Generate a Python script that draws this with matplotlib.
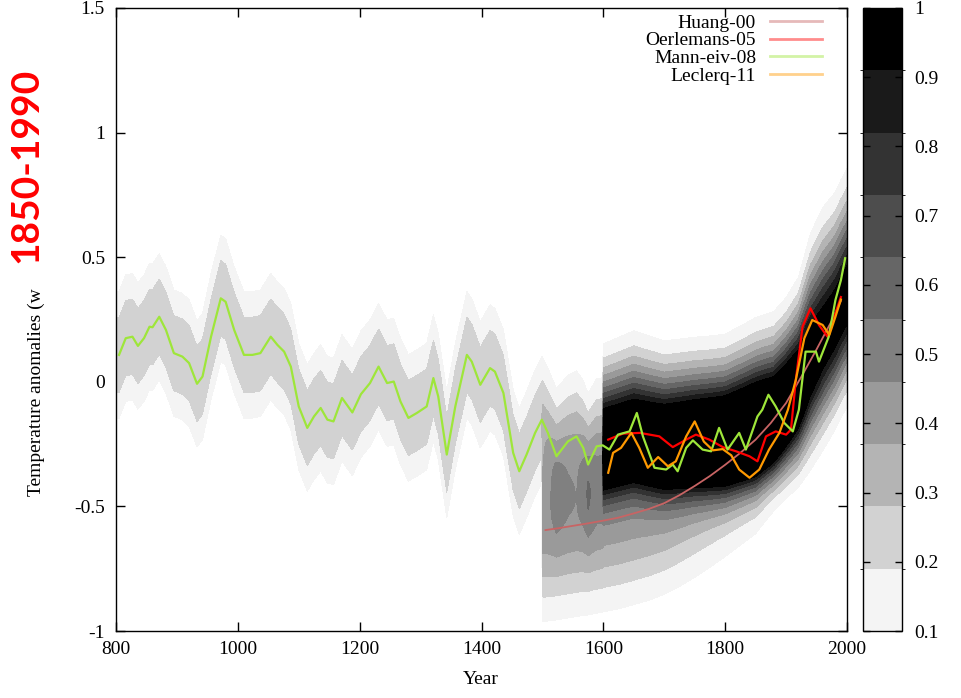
import numpy as np
import matplotlib
matplotlib.use('Agg')
import matplotlib.pyplot as plt
from matplotlib.colors import ListedColormap, BoundaryNorm
from matplotlib.cm import ScalarMappable
from matplotlib.lines import Line2D

plt.rcParams['font.family'] = 'Liberation Serif'
plt.rcParams['axes.unicode_minus'] = False

# --- reconstructions ---
mann_years = [805, 816, 827, 836, 846, 855, 860, 871, 882, 895,
              909, 920, 933, 942, 956, 972, 980, 994, 1010, 1024,
              1037, 1054, 1065, 1076, 1087, 1100, 1114, 1125, 1136, 1147,
              1157, 1171, 1188, 1202, 1217, 1231, 1245, 1256, 1267, 1280,
              1294, 1310, 1321, 1329, 1343, 1357, 1376, 1384, 1398, 1414,
              1422, 1436, 1452, 1462, 1474, 1488, 1499, 1509, 1523, 1542,
              1556, 1567, 1575, 1589, 1599, 1610, 1624, 1643, 1655, 1665,
              1684, 1703, 1714, 1722, 1736, 1747, 1763, 1777, 1790, 1804,
              1823, 1834, 1853, 1861, 1871, 1883, 1897, 1911, 1921, 1932,
              1949, 1954, 1970, 1981, 1990, 1997]
mann_vals = [0.108, 0.175, 0.181, 0.144, 0.175, 0.221, 0.219, 0.261, 0.208, 0.115,
             0.101, 0.075, -0.008, 0.021, 0.181, 0.335, 0.321, 0.208, 0.108, 0.108,
             0.115, 0.181, 0.148, 0.121, 0.061, -0.099, -0.185, -0.139, -0.105, -0.152,
             -0.159, -0.065, -0.123, -0.050, -0.005, 0.061, -0.005, 0.001, -0.079, -0.145,
             -0.125, -0.099, 0.015, -0.059, -0.292, -0.099, 0.108, 0.081, -0.012, 0.055,
             0.041, -0.045, -0.285, -0.359, -0.292, -0.205, -0.152, -0.205, -0.299, -0.239,
             -0.219, -0.265, -0.332, -0.259, -0.255, -0.272, -0.212, -0.199, -0.125, -0.219,
             -0.345, -0.352, -0.332, -0.359, -0.265, -0.235, -0.272, -0.279, -0.185, -0.272,
             -0.205, -0.272, -0.139, -0.112, -0.052, -0.099, -0.165, -0.199, -0.112, 0.121,
             0.121, 0.081, 0.181, 0.328, 0.408, 0.496]

oerl_years = [1608, 1632, 1660, 1692, 1714, 1736, 1752, 1774, 1796, 1818, 1840, 1853,
              1867, 1883, 1900, 1908, 1916, 1927, 1940, 1954, 1968, 1979, 1990]
oerl_vals = [-0.232, -0.208, -0.205, -0.219, -0.262, -0.232, -0.212, -0.232, -0.262, -0.279,
             -0.299, -0.319, -0.219, -0.199, -0.212, -0.192, 0.008, 0.221, 0.295, 0.228,
             0.181, 0.261, 0.34]

lecl_years = [1608, 1616, 1629, 1646, 1659, 1673, 1690, 1706, 1719, 1736, 1750, 1765, 1780, 1796,
              1810, 1823, 1840, 1856, 1872, 1889, 1903, 1916, 1930, 1943, 1960, 1971, 1981, 1990]
lecl_vals = [-0.365, -0.285, -0.265, -0.205, -0.265, -0.345, -0.302, -0.339, -0.319, -0.219,
             -0.159, -0.240, -0.275, -0.270, -0.295, -0.352, -0.385, -0.352, -0.272, -0.205,
             -0.112, 0.008, 0.175, 0.248, 0.228, 0.188, 0.261, 0.33]

huang_years = [1505, 1525, 1550, 1575, 1600, 1625, 1650, 1675, 1700, 1725, 1750,
               1775, 1800, 1825, 1850, 1875, 1900, 1925, 1950, 1975, 1990]
huang_vals = [-0.595, -0.588, -0.578, -0.568, -0.557, -0.545, -0.528, -0.51, -0.487, -0.455, -0.418,
              -0.378, -0.333, -0.285, -0.232, -0.165, -0.085, 0.02, 0.13, 0.245, 0.325]

# --- probability shading: centre / spread / height of the grey cloud ---
core_years = [1600, 1650, 1700, 1750, 1800, 1850, 1880, 1900, 1920, 1940, 1960, 1980, 2000]
core_center = [-0.28, -0.25, -0.27, -0.26, -0.26, -0.23, -0.19, -0.12, -0.05, 0.07, 0.16, 0.24, 0.34]
core_peak = [1.3, 1.3, 1.3, 1.3, 1.3, 1.3, 1.3, 1.25, 1.15, 1.0, 0.95, 0.95, 0.95]
core_s_up = [0.19, 0.20, 0.19, 0.19, 0.19, 0.20, 0.19, 0.19, 0.20, 0.24, 0.25, 0.24, 0.24]
core_s_dn = [0.12, 0.12, 0.12, 0.12, 0.12, 0.12, 0.12, 0.14, 0.16, 0.19, 0.20, 0.20, 0.20]
huang_peak = [0.4, 0.4, 0.4, 0.4, 0.4, 0.4, 0.4, 0.4, 0.4, 0.4, 0.4,
              0.4, 0.4, 0.4, 0.4, 0.3, 0.2, 0.15, 0.12, 0.1, 0.1]
huang_sigma = 0.22
mann_peak, mann_sigma = 0.27, 0.18

prob_levels = [0.1, 0.19, 0.28, 0.37, 0.46, 0.55, 0.64, 0.73, 0.82, 0.91, 1.0]
greys = ['#f4f4f4', '#d2d2d2', '#b4b4b4', '#9a9a9a', '#808080',
         '#666666', '#4d4d4d', '#333333', '#1a1a1a', '#000000']

yr = np.arange(800, 2000.5, 1.0)
tt = np.linspace(-1, 1.5, 501)
T = tt[:, None]


def band(years, centre, peak, s_up, s_dn, y0, y1):
    n = len(years)
    c = np.interp(yr, years, centre)
    p = np.interp(yr, years, np.broadcast_to(peak, n))
    su = np.interp(yr, years, np.broadcast_to(s_up, n))
    sd = np.interp(yr, years, np.broadcast_to(s_dn, n))
    d = T - c[None, :]
    s = np.where(d > 0, su[None, :], sd[None, :])
    out = p[None, :] * np.exp(-0.5 * (d / s) ** 2)
    out[:, (yr < y0) | (yr > y1)] = 0
    return out


dens = band(mann_years, mann_vals, mann_peak, mann_sigma, mann_sigma, 800, 1599.5)
dens += band(huang_years, huang_vals, huang_peak, huang_sigma, huang_sigma, 1500, 2000)
dens += band(core_years, core_center, core_peak, core_s_up, core_s_dn, 1600, 2000)

fig = plt.figure(figsize=(9.61, 6.98), dpi=100)
W, H = 961.0, 698.0
ax = fig.add_axes([116 / W, (H - 631) / H, 731 / W, 623 / H])
cax = fig.add_axes([863 / W, (H - 631) / H, 39 / W, 623 / H])

lv = prob_levels[:-1] + [dens.max() + 1]
ax.contourf(yr, tt, dens, levels=lv, colors=greys)
ax.set_axisbelow(True)

ax.plot(huang_years, huang_vals, color='#c86464', lw=1.3, label='Huang-00')
ax.plot(oerl_years, oerl_vals, color='#ff0000', lw=1.6, label='Oerlemans-05')
ax.plot(mann_years, mann_vals, color='#9ee63a', lw=1.6, label='Mann-eiv-08')
ax.plot(lecl_years, lecl_vals, color='#ff9900', lw=1.6, label='Leclerq-11')

ax.set_xlim(800, 2000)
ax.set_ylim(-1, 1.5)
ax.set_xticks(range(800, 2001, 200))
ax.set_yticks([-1, -0.5, 0, 0.5, 1, 1.5])
ax.set_yticklabels(['-1', '-0.5', '0', '0.5', '1', '1.5'])
ax.tick_params(direction='in', length=6.5, width=1, top=True, right=True, labelsize=14)
ax.tick_params(axis='x', pad=7)
ax.tick_params(axis='y', pad=8)
for sp in ax.spines.values():
    sp.set_linewidth(1.0)

# legend with pale samples on the right
handles = [Line2D([], [], color=l.get_color(), lw=2, alpha=0.45) for l in ax.get_lines()]
labels = [l.get_label() for l in ax.get_lines()]
ax.legend(handles, labels, loc='upper right', bbox_to_anchor=(0.966, 0.99), frameon=False,
          markerfirst=False, fontsize=14, handlelength=2.7, handletextpad=0.7,
          labelspacing=0.0, borderpad=0, borderaxespad=0)

# colour scale
cmap = ListedColormap(greys)
norm = BoundaryNorm(prob_levels, cmap.N)
cb = fig.colorbar(ScalarMappable(norm=norm, cmap=cmap), cax=cax,
                  ticks=[0.1, 0.2, 0.3, 0.4, 0.5, 0.6, 0.7, 0.8, 0.9, 1.0])
cb.ax.set_yticklabels(['0.1', '0.2', '0.3', '0.4', '0.5', '0.6', '0.7', '0.8', '0.9', '1'])
cb.outline.set_linewidth(1.0)
cax.yaxis.set_ticks_position('both')
cax.tick_params(direction='in', length=5, width=1, labelsize=14, pad=9,
                labelleft=False, labelright=True)

fig.text(481 / W, 1 - 680 / H, 'Year', ha='center', va='center', fontsize=14)
fig.text(36 / W, 1 - 392 / H, 'Temperature anomalies (w', rotation=90,
         ha='center', va='center', fontsize=14)
fig.text(26 / W, 1 - 165 / H, '1850-1990', rotation=90, ha='center', va='center',
         fontsize=28, color='#ff0000', fontweight='bold', family=['Lato', 'DejaVu Sans'])

fig.savefig('out.png', dpi=100)
